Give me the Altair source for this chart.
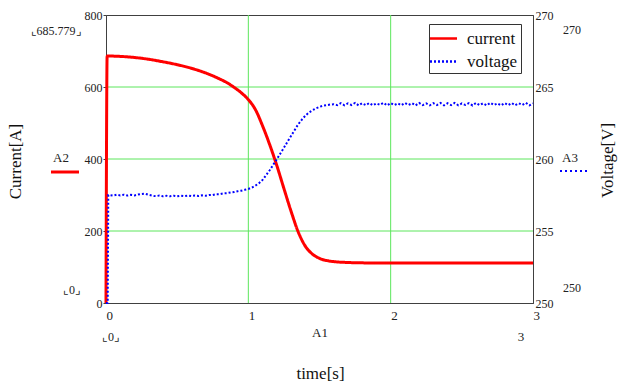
import altair as alt
import pandas as pd

FONT = "Liberation Serif"

# ---- data ----
t_cur = [0.0, 0.008, 0.1, 0.2, 0.3, 0.4, 0.5, 0.6, 0.7, 0.75, 0.8, 0.85, 0.9, 0.95,
         1.0, 1.05, 1.1, 1.15, 1.2, 1.25, 1.3, 1.35, 1.4, 1.45, 1.5, 1.55,
         1.6, 1.7, 1.8, 2.0, 2.5, 3.0]
i_cur = [0, 686, 685, 682, 677, 670, 662, 652, 639, 631, 622, 612, 599, 584,
         565, 537, 492, 440, 382, 318, 255, 198, 158, 136, 124, 118,
         115, 112.5, 111.5, 111, 111, 111]

t_volt = [0.0, 0.012, 0.016,
          0.025, 0.05, 0.075, 0.1, 0.125, 0.15, 0.175, 0.2, 0.225, 0.25,
          0.275, 0.3, 0.325, 0.35, 0.375, 0.4, 0.425, 0.45, 0.475, 0.5,
          0.525, 0.55, 0.575, 0.6, 0.625, 0.65, 0.675, 0.7, 0.725, 0.75,
          0.775, 0.8, 0.825, 0.85, 0.875, 0.9, 0.925, 0.95, 0.975, 1.0,
          1.025, 1.05, 1.075, 1.1, 1.125, 1.15, 1.175, 1.2, 1.225, 1.25,
          1.275, 1.3, 1.325, 1.35, 1.375, 1.4, 1.425, 1.45, 1.475, 1.5,
          1.525, 1.55, 1.575, 1.6, 1.625, 1.65, 1.675, 1.7, 1.725, 1.75,
          1.775, 1.8, 1.825, 1.85, 1.875, 1.9, 1.925, 1.95, 1.975, 2.0,
          2.025, 2.05, 2.075, 2.1, 2.125, 2.15, 2.175, 2.2, 2.225, 2.25,
          2.275, 2.3, 2.325, 2.35, 2.375, 2.4, 2.425, 2.45, 2.475, 2.5,
          2.525, 2.55, 2.575, 2.6, 2.625, 2.65, 2.675, 2.7, 2.725, 2.75,
          2.775, 2.8, 2.825, 2.85, 2.875, 2.9, 2.925, 2.95, 2.975, 3.0]
v_volt = [250.0, 250.0, 257.5,
          257.50, 257.46, 257.52, 257.47, 257.52, 257.46, 257.51, 257.47, 257.53, 257.57,
          257.59, 257.51, 257.45, 257.42, 257.46, 257.41, 257.45, 257.41, 257.45, 257.41,
          257.45, 257.42, 257.46, 257.42, 257.47, 257.43, 257.48, 257.45, 257.50, 257.50,
          257.56, 257.56, 257.62, 257.63, 257.68, 257.70, 257.76, 257.80, 257.86, 257.92,
          258.02, 258.15, 258.32, 258.55, 258.88, 259.22, 259.60, 259.98, 260.38, 260.78,
          261.20, 261.60, 262.00, 262.40, 262.72, 263.00, 263.22, 263.38, 263.52, 263.62,
          263.70, 263.74, 263.78, 263.80, 263.74, 263.88, 263.73, 263.86, 263.75, 263.90,
          263.72, 263.87, 263.74, 263.89, 263.73, 263.86, 263.76, 263.90, 263.72, 263.88,
          263.74, 263.86, 263.73, 263.89, 263.75, 263.87, 263.72, 263.90, 263.74, 263.86,
          263.73, 263.88, 263.75, 263.89, 263.72, 263.87, 263.74, 263.90, 263.73, 263.86,
          263.75, 263.88, 263.72, 263.89, 263.74, 263.87, 263.73, 263.90, 263.75, 263.86,
          263.72, 263.88, 263.74, 263.89, 263.73, 263.87, 263.75, 263.90, 263.72, 263.86]
assert len(t_volt) == len(v_volt)
assert len(t_cur) == len(i_cur)

x_ticks = [0, 1, 2, 3]
cur_ticks = [0, 200, 400, 600, 800]
volt_ticks = [250, 255, 260, 265, 270]
x_grid = [1, 2]
y_grid = [200, 400, 600]
series_names = ["current", "voltage"]
series_colors = ["#ff0000", "#0000ff"]

cur_df = pd.DataFrame({"t": t_cur, "I": i_cur, "series": "current"})
volt_df = pd.DataFrame({"t": t_volt, "V": v_volt, "series": "voltage"})
xg_df = pd.DataFrame({"t": x_grid})
yg_df = pd.DataFrame({"g": y_grid})

GRID = "#5ce65c"
AXC = "#404040"
TXT = "#222222"

x_scale = alt.Scale(domain=[0, 3], nice=False, zero=False)
leg = alt.Legend(title=None, orient="none", legendX=323, legendY=9)
color_enc = alt.Color("series:N", scale=alt.Scale(domain=series_names, range=series_colors), legend=leg)
dash_enc = alt.StrokeDash("series:N", scale=alt.Scale(domain=series_names, range=[[1, 0], [2, 2]]), legend=leg)

x_axis = alt.Axis(values=x_ticks, format="d", title="time[s]", titleX=214, titleY=70,
                  titleBaseline="middle", titleAlign="center",
                  labelAlign="left", labelFlush=False, labelPadding=6, tickSize=0,
                  labelFont=FONT, labelFontSize=13, labelColor=TXT, domainColor=AXC)

xgrid = alt.Chart(xg_df).mark_rule(color=GRID, strokeWidth=1).encode(
    x=alt.X("t:Q", scale=x_scale))
ygrid = alt.Chart(yg_df).mark_rule(color=GRID, strokeWidth=1).encode(
    y=alt.Y("g:Q", scale=alt.Scale(domain=[0, 800], nice=False), axis=None))

current = alt.Chart(cur_df).mark_line(strokeWidth=3, interpolate="monotone").encode(
    x=alt.X("t:Q", scale=x_scale, axis=x_axis),
    y=alt.Y("I:Q", scale=alt.Scale(domain=[0, 800], nice=False),
            axis=alt.Axis(orient="left", values=cur_ticks, format="d", title="Current[A]",
                          titleX=-91, titleY=146, titleAngle=270,
                          titleBaseline="middle", titleAlign="center",
                          labelFlush=False, tickSize=3, labelPadding=1,
                          labelFont=FONT, labelFontSize=12, labelColor=TXT,
                          domainColor=AXC, tickColor=AXC)),
    color=color_enc, strokeDash=dash_enc)

voltage = alt.Chart(volt_df).mark_line(strokeWidth=2).encode(
    x=alt.X("t:Q", scale=x_scale),
    y=alt.Y("V:Q", scale=alt.Scale(domain=[250, 270], nice=False, zero=False),
            axis=alt.Axis(orient="right", values=volt_ticks, format="d", title="Voltage[V]",
                          titleX=74, titleY=145, titleAngle=270,
                          titleBaseline="middle", titleAlign="center",
                          labelFlush=False, tickSize=0, labelPadding=2,
                          labelFont=FONT, labelFontSize=12, labelColor=TXT,
                          domainColor=AXC)),
    color=color_enc, strokeDash=dash_enc)

one = alt.Data(values=[{}])


def label(txt, x, y, size=12):
    return alt.Chart(one).mark_text(text=txt, font=FONT, fontSize=size, color=TXT,
                                    align="center", baseline="middle").encode(
        x=alt.value(x), y=alt.value(y))


annots = [
    label("⌞685.779⌟", -50, 16),
    label("⌞0⌟", -34, 275),
    label("A2", -45, 143, 13),
    label("A3", 464, 143, 13),
    label("270", 466, 15),
    label("250", 466, 273),
    label("A1", 214, 318, 13),
    label("⌞0⌟", 5, 322),
    label("3", 415, 322, 13),
    alt.Chart(one).mark_rule(color="#ff0000", strokeWidth=3).encode(
        x=alt.value(-55), x2=alt.value(-27), y=alt.value(157)),
    alt.Chart(one).mark_rule(color="#0000ff", strokeWidth=2, strokeDash=[2, 3]).encode(
        x=alt.value(454), x2=alt.value(481), y=alt.value(156)),
]

chart = alt.layer(xgrid, ygrid, current, voltage, *annots).resolve_scale(
    y="independent"
).properties(
    width=427, height=288,
    padding={"left": 106, "top": 15, "right": 85, "bottom": 82},
    autosize=alt.AutoSizeParams(type="none"),
    background="white",
).configure_view(
    stroke=AXC, strokeWidth=1
).configure_axis(
    grid=False, labelFont=FONT, labelFontSize=12, labelColor=TXT,
    titleFont=FONT, titleFontSize=17, titleFontWeight="normal", titleColor="#111111",
).configure_legend(
    strokeColor="#333333", fillColor="white", padding=3,
    labelFont=FONT, labelFontSize=17, labelColor="#111111",
    symbolType="M-1.35,0H1.35", symbolSize=400, symbolStrokeWidth=2.5,
    rowPadding=3, labelOffset=12,
)

chart.save("out.html", embed_options={"renderer": "svg", "actions": False})
